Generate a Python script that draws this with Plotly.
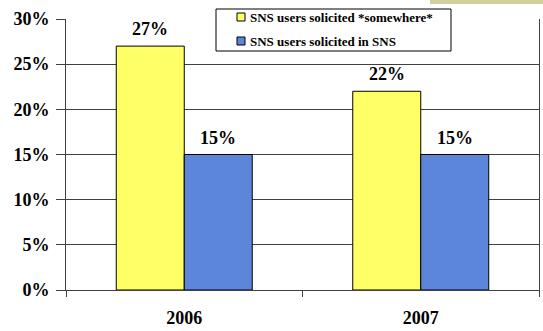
import plotly.graph_objects as go

years = ["2006", "2007"]
series_names = ["SNS users solicited *somewhere*", "SNS users solicited in SNS"]
somewhere = [27, 22]
in_sns = [15, 15]
colors = ["#FFFF66", "#5B86DA"]
y_ticks = [0, 5, 10, 15, 20, 25, 30]
y_tick_text = [f"{v}%" for v in y_ticks]

FONT = "Liberation Serif, Times New Roman, serif"
W, H = 543, 331
ML, MR, MT, MB = 66, 4, 19, 41
PW, PH = W - ML - MR, H - MT - MB
BARGAP = 0.425


def px(x):
    return (x - ML) / PW


def py(y):
    return (H - MB - y) / PH


fig = go.Figure()
series = [somewhere, in_sns]
for name, vals, col in zip(series_names, series, colors):
    fig.add_trace(go.Bar(
        x=years, y=vals, name=name,
        marker=dict(color=col, line=dict(color="black", width=1)),
        showlegend=False,
    ))

# value labels above bars (category index positions)
bar_px = PW / len(years) * (1 - BARGAP) / len(series)
annotations = []
for si, vals in enumerate(series):
    offset = (si - (len(series) - 1) / 2) * bar_px
    for ci, v in enumerate(vals):
        annotations.append(dict(
            x=ci, y=v, xref="x", yref="y", text=f"{v}%", showarrow=False,
            xanchor="center", yanchor="bottom", xshift=offset, yshift=5,
            font=dict(family=FONT, size=18, color="black", weight="bold"),
        ))

# manual legend
shapes = [
    dict(type="rect", xref="paper", yref="paper",
         x0=px(216), x1=px(451), y0=py(51), y1=py(9),
         fillcolor="white", line=dict(color="black", width=1), layer="above"),
    dict(type="rect", xref="paper", yref="paper",
         x0=px(430), x1=px(545), y0=py(4), y1=py(-2),
         fillcolor="#D2CF9F", line=dict(width=0), layer="above"),
]
row_y = [17, 41]
for name, col, ry in zip(series_names, colors, row_y):
    shapes.append(dict(type="rect", xref="paper", yref="paper",
                       x0=px(237), x1=px(245), y0=py(ry + 4), y1=py(ry - 4),
                       fillcolor=col, line=dict(color="black", width=1),
                       layer="above"))
    annotations.append(dict(
        x=px(248), y=py(ry), xref="paper", yref="paper", text=name,
        showarrow=False, xanchor="left", yanchor="middle",
        font=dict(family=FONT, size=13, color="black", weight="bold"),
    ))

fig.update_layout(
    width=W, height=H,
    margin=dict(l=ML, r=MR, t=MT, b=MB),
    paper_bgcolor="white", plot_bgcolor="white",
    barmode="group", bargap=BARGAP, bargroupgap=0,
    font=dict(family=FONT, color="black"),
    showlegend=False,
    shapes=shapes,
    annotations=annotations,
)
fig.update_xaxes(
    type="category", categoryorder="array", categoryarray=years,
    range=[-0.5, len(years) - 0.5], autorange=False,
    tickson="boundaries", ticks="outside", ticklen=6, ticklabelstandoff=11,
    tickcolor="#404040", showline=True, linecolor="#404040", linewidth=1,
    showgrid=False,
    tickfont=dict(family=FONT, size=18, color="black", weight="bold"),
)
fig.update_yaxes(
    range=[0, 30], autorange=False, tickvals=y_ticks, ticktext=y_tick_text,
    ticks="outside", ticklen=9, tickcolor="#404040", ticklabelstandoff=3,
    showline=True, linecolor="#404040", linewidth=1, mirror=True,
    showgrid=True, gridcolor="#404040", gridwidth=1,
    zeroline=False,
    tickfont=dict(family=FONT, size=18, color="black", weight="bold"),
)

fig.write_html("out.html")
